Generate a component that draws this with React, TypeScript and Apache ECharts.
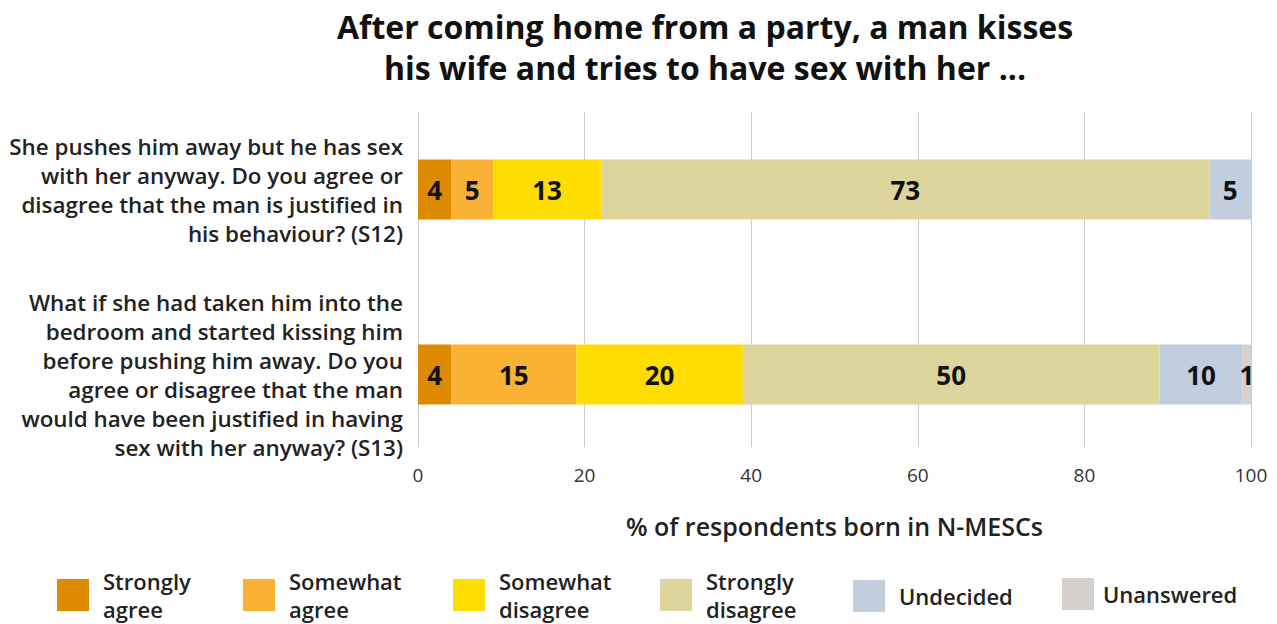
import React, { useEffect, useRef } from "react";
import * as echarts from "echarts";

const categories = [
  "She pushes him away but he has sex\nwith her anyway. Do you agree or\ndisagree that the man is justified in\nhis behaviour? (S12)",
  "What if she had taken him into the\nbedroom and started kissing him\nbefore pushing him away. Do you\nagree or disagree that the man\nwould have been justified in having\nsex with her anyway? (S13)",
];
const seriesNames = [
  "Strongly agree",
  "Somewhat agree",
  "Somewhat disagree",
  "Strongly disagree",
  "Undecided",
  "Unanswered",
];
const legendLabels = [
  "Strongly\nagree",
  "Somewhat\nagree",
  "Somewhat\ndisagree",
  "Strongly\ndisagree",
  "Undecided",
  "Unanswered",
];
const stronglyAgree = [4, 4];
const somewhatAgree = [5, 15];
const somewhatDisagree = [13, 20];
const stronglyDisagree = [73, 50];
const undecided = [5, 10];
const unanswered = [0, 1];
const seriesValues = [
  stronglyAgree,
  somewhatAgree,
  somewhatDisagree,
  stronglyDisagree,
  undecided,
  unanswered,
];
const colors = ["#DD8A00", "#F9B233", "#FFDD00", "#DDD59B", "#C2CEDD", "#D6D0CC"];
const titleText =
  "After coming home from a party, a man kisses\nhis wife and tries to have sex with her ...";
const xAxisName = "% of respondents born in N-MESCs";

const FONT = "'Open Sans', 'Noto Sans', sans-serif";
const legendLefts = [57, 243, 453, 660, 853, 1062];
const legendTops = [562, 562, 562, 562, 575, 573];
const legendPads = [9, 9, 9, 9, 9, 4];

export default function App() {
  const ref = useRef<HTMLDivElement>(null);
  useEffect(() => {
    if (!ref.current) return;
    const chart = echarts.init(ref.current, null, { renderer: "svg" });
    const option: any = {
      animation: false,
      color: colors,
      graphic: [
        {
          type: "text",
          x: 705,
          y: 6,
          style: {
            text: titleText,
            fontFamily: FONT,
            fontSize: 32,
            fontWeight: "bold",
            lineHeight: 41,
            fill: "#111",
            textAlign: "center",
            textVerticalAlign: "top",
          },
        },
      ],
      legend: seriesNames.map((name, i) => ({
        left: legendLefts[i] - 5,
        top: legendTops[i],
        itemWidth: 32,
        itemHeight: 32,
        icon: "rect",
        data: [name],
        formatter: (n: string) => legendLabels[seriesNames.indexOf(n)],
        textStyle: {
          fontFamily: FONT,
          fontSize: 22,
          fontWeight: 600,
          lineHeight: 28,
          color: "#222",
          padding: [0, 0, 0, legendPads[i]],
        },
      })),
      grid: [
        { left: 418, width: 833, top: 97, height: 370 },
        { left: 418, width: 833, top: 112, height: 335 },
      ],
      xAxis: [
        { type: "value", gridIndex: 0, min: 0, max: 100, show: false },
        {
          type: "value",
          gridIndex: 1,
          min: 0,
          max: 100,
          interval: 20,
          axisLine: { show: false },
          axisTick: { show: false },
          splitLine: { show: true, lineStyle: { color: "#cccccc", width: 1 } },
          axisLabel: {
            fontFamily: FONT,
            fontSize: 19,
            color: "#333",
            margin: 18,
          },
          name: xAxisName,
          nameLocation: "middle",
          nameGap: 66,
          nameTextStyle: {
            fontFamily: FONT,
            fontSize: 25,
            fontWeight: 600,
            color: "#222",
          },
        },
      ],
      yAxis: [
        {
          type: "category",
          gridIndex: 0,
          inverse: true,
          data: categories,
          axisLine: { show: false },
          axisTick: { show: false },
          splitLine: { show: false },
          axisLabel: {
            margin: 15,
            align: "right",
            fontFamily: FONT,
            fontSize: 22.4,
            fontWeight: 600,
            lineHeight: 29,
            color: "#222",
          },
        },
        { type: "value", gridIndex: 1, show: false, min: 0, max: 1 },
      ],
      series: seriesNames.map((name, i) => ({
        name,
        type: "bar",
        stack: "total",
        xAxisIndex: 0,
        yAxisIndex: 0,
        barWidth: 60,
        data: seriesValues[i],
        itemStyle: { color: colors[i] },
        label: {
          show: true,
          position: "inside",
          formatter: (p: any) => (p.value ? String(p.value) : ""),
          fontFamily: FONT,
          fontSize: 26,
          fontWeight: "bold",
          color: "#111",
        },
      })),
    };
    chart.setOption(option);
    return () => chart.dispose();
  }, []);
  return (
    <div
      ref={ref}
      style={{ position: "fixed", left: 0, top: 0, width: 1277, height: 624, background: "#fff" }}
    />
  );
}
